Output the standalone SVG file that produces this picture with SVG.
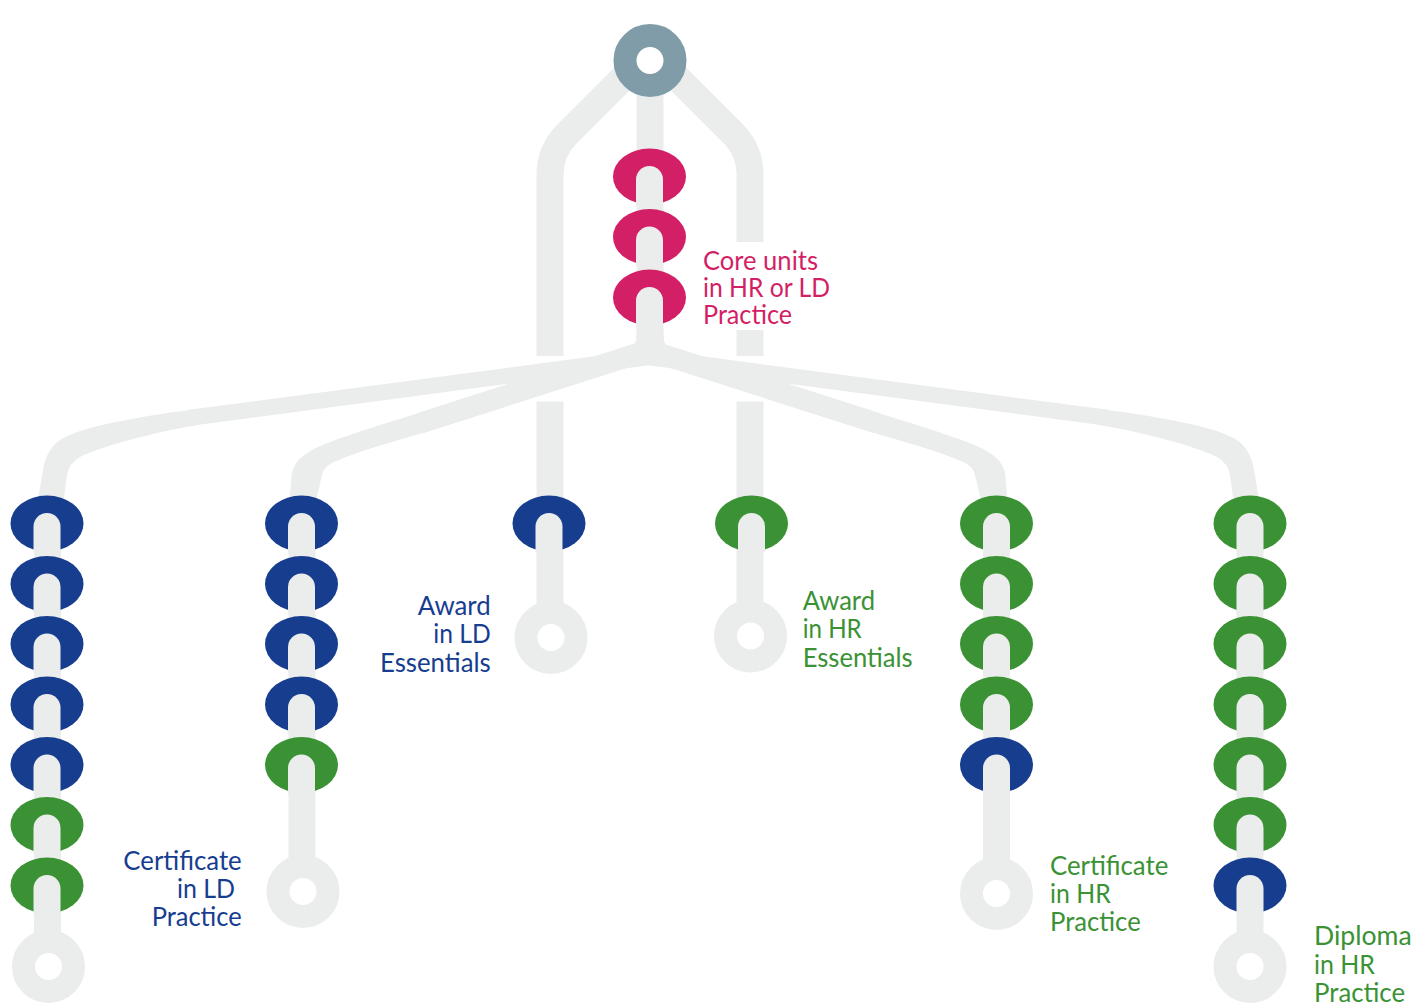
<svg xmlns="http://www.w3.org/2000/svg" xmlns:xlink="http://www.w3.org/1999/xlink" width="1415" height="1003" viewBox="0 0 1415 1003">
<style>
.trk{fill:none;stroke:#ebedec;stroke-width:27}
.fan1{fill:none;stroke:#ebedec;stroke-width:16}
.fan2{fill:none;stroke:#ebedec;stroke-width:21}
.bend{fill:#ebedec;stroke:none}
.end{fill:#ffffff;stroke:#ebedec;stroke-width:23}
.start{fill:#ffffff;stroke:#7f9ca8;stroke-width:23}
.blue{color:#173d8f}
.green{color:#3a9234}
.pink{color:#d31f66}
text{font-family:Lato,"Liberation Sans",sans-serif;font-size:26.5px}
.tb{fill:#173d8f}
.tg{fill:#3a9234}
.tp{fill:#d31f66}
</style>
<defs>
<g id="bead">
<ellipse rx="36.5" ry="28" fill="currentColor"/>
<path d="M-13.5,29 V3 A13.5,13.5 0 0 1 13.5,3 V29 Z" fill="#ebedec"/>
</g>
</defs>
<rect width="1415" height="1003" fill="#ffffff"/>
<g id="connectors">
<path class="trk" d="M650,60 V346"/>
<path class="trk" d="M641,60 L567,134 Q550,151 550,175 V356"/>
<path class="trk" d="M659.5,60 L733,133.5 Q750,150.5 750,175 V242"/>
<path class="trk" d="M750,330 V356"/>
<path class="bend" d="M636.5,330 V336 Q636.5,352 616,354 L684,354 Q663.5,352 663.5,336 V330 Z"/>
<g id="fan-left">
<path class="fan1" d="M650,357 L190,417.8"/>
<path class="bend" d="M200,408.5 C150,415 80,426 60,440 Q46,450 43,470 L37,505 L63,505 L67,475 Q69,463 80,457 C100,447 150,433 200,424.5 Z"/>
<path class="fan2" d="M650,349.5 L420,423.2"/>
<path class="bend" d="M430,409.5 C380,425 330,440 312,450 Q296,458 292,472 L289,505 L315,505 L322,475 Q324,466 334,462 C360,450 395,442 430,430.5 Z"/>
</g>
<use xlink:href="#fan-left" href="#fan-left" transform="translate(1297,0) scale(-1,1)"/>
<path class="trk" d="M550,401.5 V637.5"/>
<path class="trk" d="M750,401.5 V636"/>
<path class="trk" d="M47.5,500 V966.5"/>
<path class="trk" d="M302,500 V891.5"/>
<path class="trk" d="M996.5,500 V893.5"/>
<path class="trk" d="M1250,500 V966.5"/>
</g>
<g id="start-node">
<circle class="start" cx="650" cy="60.5" r="25"/>
</g>
<g id="core-units">
<use xlink:href="#bead" href="#bead" class="pink" x="649.5" y="176.5"/>
<use xlink:href="#bead" href="#bead" class="pink" x="649.5" y="237"/>
<use xlink:href="#bead" href="#bead" class="pink" x="649.5" y="297.5"/>
<text class="tp" x="703" y="270" textLength="115" lengthAdjust="spacingAndGlyphs">Core units</text>
<text class="tp" x="703" y="297" textLength="127" lengthAdjust="spacingAndGlyphs">in HR or LD</text>
<text class="tp" x="703" y="324" textLength="89" lengthAdjust="spacingAndGlyphs">Practice</text>
</g>
<g id="certificate-ld">
<use xlink:href="#bead" href="#bead" class="blue" x="47" y="523.5"/>
<use xlink:href="#bead" href="#bead" class="blue" x="47" y="584"/>
<use xlink:href="#bead" href="#bead" class="blue" x="47" y="644"/>
<use xlink:href="#bead" href="#bead" class="blue" x="47" y="704.5"/>
<use xlink:href="#bead" href="#bead" class="blue" x="47" y="765"/>
<use xlink:href="#bead" href="#bead" class="green" x="47" y="825"/>
<use xlink:href="#bead" href="#bead" class="green" x="47" y="885.5"/>
<circle class="end" cx="48.5" cy="966.5" r="25"/>
<text class="tb" x="241.7" y="870" text-anchor="end" textLength="118.4" lengthAdjust="spacingAndGlyphs">Certificate</text>
<text class="tb" x="235" y="897.7" text-anchor="end" textLength="58" lengthAdjust="spacingAndGlyphs">in LD</text>
<text class="tb" x="241.7" y="925.7" text-anchor="end" textLength="90" lengthAdjust="spacingAndGlyphs">Practice</text>
</g>
<g id="ld-col2">
<use xlink:href="#bead" href="#bead" class="blue" x="301.5" y="523.5"/>
<use xlink:href="#bead" href="#bead" class="blue" x="301.5" y="584"/>
<use xlink:href="#bead" href="#bead" class="blue" x="301.5" y="644"/>
<use xlink:href="#bead" href="#bead" class="blue" x="301.5" y="704.5"/>
<use xlink:href="#bead" href="#bead" class="green" x="301.5" y="765"/>
<circle class="end" cx="303" cy="891.5" r="25"/>
</g>
<g id="award-ld">
<use xlink:href="#bead" href="#bead" class="blue" x="549" y="523.5"/>
<circle class="end" cx="551" cy="637.5" r="25"/>
<text class="tb" x="490.7" y="615" text-anchor="end" textLength="73" lengthAdjust="spacingAndGlyphs">Award</text>
<text class="tb" x="490.7" y="643.3" text-anchor="end" textLength="57.4" lengthAdjust="spacingAndGlyphs">in LD</text>
<text class="tb" x="490.7" y="671.7" text-anchor="end" textLength="110.7" lengthAdjust="spacingAndGlyphs">Essentials</text>
</g>
<g id="award-hr">
<use xlink:href="#bead" href="#bead" class="green" x="751.5" y="523.5"/>
<circle class="end" cx="750.5" cy="636" r="25"/>
<text class="tg" x="802.7" y="610" textLength="72.3" lengthAdjust="spacingAndGlyphs">Award</text>
<text class="tg" x="802.7" y="638.3" textLength="59" lengthAdjust="spacingAndGlyphs">in HR</text>
<text class="tg" x="802.7" y="666.7" textLength="110" lengthAdjust="spacingAndGlyphs">Essentials</text>
</g>
<g id="certificate-hr">
<use xlink:href="#bead" href="#bead" class="green" x="996.5" y="523.5"/>
<use xlink:href="#bead" href="#bead" class="green" x="996.5" y="584"/>
<use xlink:href="#bead" href="#bead" class="green" x="996.5" y="644"/>
<use xlink:href="#bead" href="#bead" class="green" x="996.5" y="704.5"/>
<use xlink:href="#bead" href="#bead" class="blue" x="996.5" y="765"/>
<circle class="end" cx="996.5" cy="893.5" r="25"/>
<text class="tg" x="1050" y="875" textLength="118.3" lengthAdjust="spacingAndGlyphs">Certificate</text>
<text class="tg" x="1050" y="903" textLength="60.7" lengthAdjust="spacingAndGlyphs">in HR</text>
<text class="tg" x="1050" y="930.7" textLength="90.7" lengthAdjust="spacingAndGlyphs">Practice</text>
</g>
<g id="diploma-hr">
<use xlink:href="#bead" href="#bead" class="green" x="1250" y="523.5"/>
<use xlink:href="#bead" href="#bead" class="green" x="1250" y="584"/>
<use xlink:href="#bead" href="#bead" class="green" x="1250" y="644"/>
<use xlink:href="#bead" href="#bead" class="green" x="1250" y="704.5"/>
<use xlink:href="#bead" href="#bead" class="green" x="1250" y="765"/>
<use xlink:href="#bead" href="#bead" class="green" x="1250" y="825"/>
<use xlink:href="#bead" href="#bead" class="blue" x="1250" y="885.5"/>
<circle class="end" cx="1250" cy="966.5" r="25"/>
<text class="tg" x="1314" y="945" textLength="97.7" lengthAdjust="spacingAndGlyphs">Diploma</text>
<text class="tg" x="1314" y="974" textLength="61" lengthAdjust="spacingAndGlyphs">in HR</text>
<text class="tg" x="1314" y="1002" textLength="91" lengthAdjust="spacingAndGlyphs">Practice</text>
</g>
</svg>
